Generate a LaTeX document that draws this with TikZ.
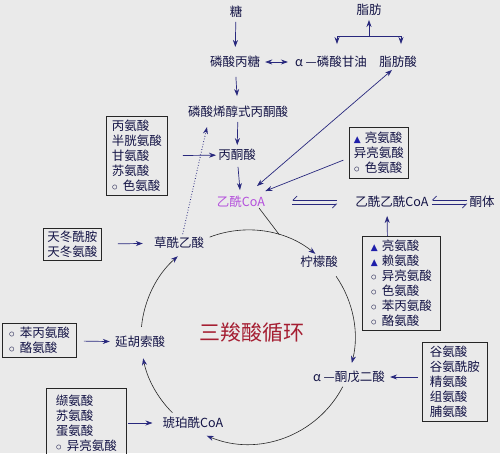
\documentclass[tikz,border=0pt]{standalone}
\usepackage{fontspec}
\setmainfont{Noto Sans CJK SC}
\newfontfamily\symfont{DejaVu Sans}
\usepackage{tikz}
\usetikzlibrary{arrows,arrows.meta}

\definecolor{bgray}{RGB}{234,234,234}
\definecolor{ink}{RGB}{20,20,70}
\definecolor{navy}{RGB}{40,40,125}
\definecolor{acoapink}{RGB}{180,80,220}
\definecolor{tcared}{RGB}{165,30,50}
\definecolor{triblue}{RGB}{30,30,170}

\newcommand{\tri}{\makebox[11pt][l]{\color{triblue}\fontsize{9}{9}\symfont ▲}}
\newcommand{\ring}{\makebox[11pt][l]{$\circ$}}

\tikzset{
  lbl/.style={inner sep=0pt, text=ink, font=\fontsize{12.5}{15}\selectfont},
  aabox/.style={draw=black!85, line width=0.8pt, inner xsep=3pt, inner ysep=2pt,
    align=left, anchor=north west, text=ink, font=\fontsize{12.5}{15}\selectfont},
  arr/.style={draw=navy, line width=0.7pt, -{Stealth[length=7pt,width=5pt]}},
  dblarr/.style={draw=navy, line width=0.7pt,
    {Stealth[length=7pt,width=5pt]}-{Stealth[length=7pt,width=5pt]}},
  cyc/.style={draw=black!85, line width=0.6pt, -{Stealth[length=7pt,width=5pt,color=navy]}},
  harp/.style={draw=navy, line width=0.7pt, -{Straight Barb[harpoon,swap,length=4pt]}}
}

\begin{document}
\begin{tikzpicture}[x=1pt,y=1pt]
  \useasboundingbox (0,0) rectangle (500,-453);
  \fill[bgray] (0,0) rectangle (500,-453);

  % metabolites
  \node[lbl] (sugar) at (236,-12)  {糖};
  \node[lbl] (fat)   at (369,-10)  {脂肪};
  \node[lbl] (tp)    at (235,-62)  {磷酸丙糖};
  \node[lbl] (gp)    at (331,-62)  {α —磷酸甘油};
  \node[lbl] (fa)    at (398,-62)  {脂肪酸};
  \node[lbl] (pep)   at (238,-112) {磷酸烯醇式丙酮酸};
  \node[lbl] (pyr)   at (237,-155) {丙酮酸};
  \node[lbl,text=acoapink] (acoa) at (241,-202) {乙酰CoA};
  \node[lbl] (aacoa) at (392,-202) {乙酰乙酰CoA};
  \node[lbl] (ket)   at (482,-202) {酮体};
  \node[lbl] (oaa)   at (179,-243) {草酰乙酸};
  \node[lbl] (cit)   at (319,-262) {柠檬酸};
  \node[lbl] (fum)   at (140,-342) {延胡索酸};
  \node[lbl] (akg)   at (349,-377) {α —酮戊二酸};
  \node[lbl] (scoa)  at (193,-423) {琥珀酰CoA};
  \node[lbl,text=tcared,font=\fontsize{21}{21}\selectfont] (tca) at (252,-333) {三羧酸循环};

  % amino acid boxes
  \node[aabox,minimum width=61pt,minimum height=79pt] (b1) at (106,-116)
    {丙氨酸\\半胱氨酸\\甘氨酸\\苏氨酸\\\ring 色氨酸};
  \node[aabox,minimum width=59pt,minimum height=51pt] (b2) at (349,-127)
    {\tri 亮氨酸\\异亮氨酸\\\ring 色氨酸};
  \node[aabox,minimum width=78pt,minimum height=94pt] (b3) at (362,-236)
    {\tri 亮氨酸\\\tri 赖氨酸\\\ring 异亮氨酸\\\ring 色氨酸\\\ring 苯丙氨酸\\\ring 酪氨酸};
  \node[aabox,minimum width=58pt,minimum height=32pt] (b4) at (43,-228)
    {天冬酰胺\\天冬氨酸};
  \node[aabox,minimum width=74pt,minimum height=34pt] (b5) at (2,-323)
    {\ring 苯丙氨酸\\\ring 酪氨酸};
  \node[aabox,minimum width=65pt,minimum height=79pt] (b6) at (422,-342)
    {谷氨酸\\谷氨酰胺\\精氨酸\\组氨酸\\脯氨酸};
  \node[aabox,minimum width=80pt,minimum height=70pt] (b7) at (46,-388)
    {缬氨酸\\苏氨酸\\蛋氨酸\\\ring 异亮氨酸};

  % glycolysis and fat
  \draw[arr,shorten <=4pt,shorten >=9pt]  (sugar) -- (tp);
  \draw[arr,shorten <=9pt,shorten >=10pt] (tp) -- (pep);
  \draw[arr,shorten <=4pt,shorten >=4pt]  (pep) -- (pyr);
  \draw[arr,shorten <=6pt,shorten >=6pt]  (pyr) -- (acoa);
  \draw[dblarr,shorten <=5pt,shorten >=7pt] (tp) -- (gp);
  \coordinate (fl)   at (337,-36);
  \coordinate (fr)   at (401,-36);
  \coordinate (fbar) at (369,-36);
  \draw[navy,line width=0.7pt] (fl) -- (fr);
  \draw[arr,shorten >=4pt]  (fbar) -- (fat);
  \draw[arr,shorten >=12pt] (fl) -- (fl |- gp.north);
  \draw[arr,shorten >=12pt] (fr) -- (fr |- fa.north);
  \draw[dblarr] ([xshift=-6pt,yshift=-2pt]fa.south) -- ([xshift=16pt,yshift=10pt]acoa.north);
  \draw[arr,shorten <=6pt] ([yshift=-5pt]b2.west) -- ([yshift=5pt]acoa.north east);
  \draw[arr,dotted,line width=0.9pt,shorten <=3pt] ([xshift=3pt]oaa.north) -- ([xshift=-31pt,yshift=-9pt]pep.south);

  % amino acids in
  \draw[arr,shorten <=15pt,shorten >=2pt]  (b1) -- (pyr);
  \draw[arr,shorten <=16pt,shorten >=11pt] (b4) -- (oaa);
  \draw[arr,shorten <=7pt,shorten >=5pt]   (b5) -- (fum);
  \draw[arr,shorten <=1pt,shorten >=10pt]  (b7.east |- scoa) -- (scoa);
  \draw[arr,shorten <=4pt,shorten >=5pt]   (b6.west |- akg) -- (akg);
  \draw[arr,shorten >=8pt] ([xshift=-14pt]b3.north) -- ([xshift=-5pt]aacoa.south);

  % acetyl-CoA <=> acetoacetyl-CoA <=> ketone bodies
  \draw[harp,shorten <=18pt,shorten >=27pt] ([yshift=2pt]aacoa.west) -- ([yshift=2pt]acoa.east);
  \draw[harp,shorten <=27pt,shorten >=18pt] ([yshift=-2pt]acoa.east) -- ([yshift=-2pt]aacoa.west);
  \draw[harp,shorten <=2pt,shorten >=3pt]   ([yshift=2pt]ket.west) -- ([yshift=2pt]aacoa.east);
  \draw[harp,shorten <=3pt,shorten >=2pt]   ([yshift=-2pt]aacoa.east) -- ([yshift=-2pt]ket.west);

  % the cycle
  \coordinate (ctr)  at (248,-337);
  \coordinate (join) at ([shift={(73:107)}]ctr);
  \draw[black!85,line width=0.6pt] ([xshift=18pt]acoa.south) -- (join);
  \draw[cyc] ([shift={(111:107)}]ctr)   arc[start angle=111,  end angle=51,    radius=107];
  \draw[cyc] ([shift={(34.6:107)}]ctr)  arc[start angle=34.6, end angle=-14,   radius=107];
  \draw[cyc] ([shift={(-27.7:107)}]ctr) arc[start angle=-27.7,end angle=-112.7,radius=107];
  \draw[cyc] ([shift={(-135:107)}]ctr)  arc[start angle=-135, end angle=-168.5,radius=107];
  \draw[cyc] ([shift={(174.6:107)}]ctr) arc[start angle=174.6,end angle=131,   radius=107];
\end{tikzpicture}
\end{document}
